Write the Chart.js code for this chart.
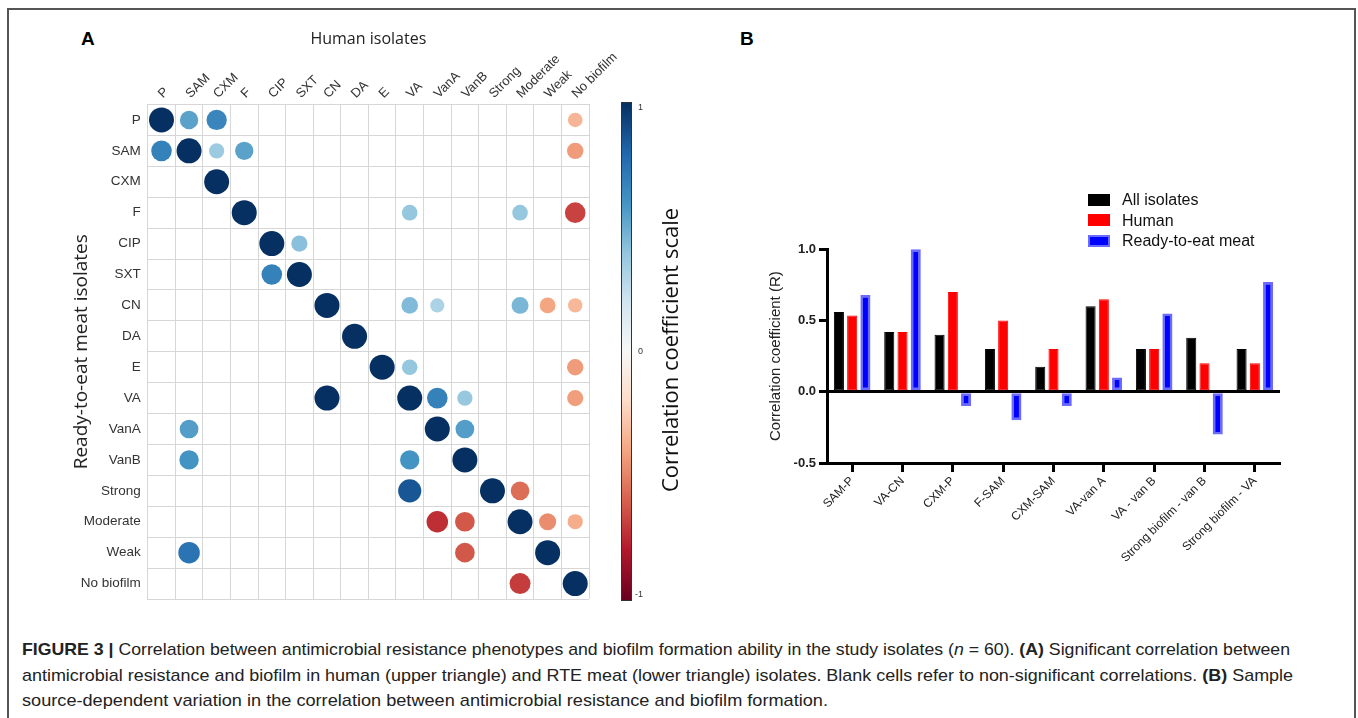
<!DOCTYPE html>
<html>
<head>
<meta charset="utf-8">
<script src="https://cdn.jsdelivr.net/npm/chart.js@4.4.0/dist/chart.umd.min.js"></script>
<style>
body{margin:0;background:#fff;font-family:"Liberation Sans",Arial,sans-serif;}
#page{position:relative;width:1358px;height:718px;overflow:hidden;background:#fff;}
#frame{position:absolute;left:7px;top:8px;width:1349px;height:800px;border:2px solid #555;box-sizing:border-box;}
.panel{position:absolute;font-weight:bold;font-size:19px;color:#000;}
canvas{position:absolute;}
#legend{position:absolute;left:1088px;top:190px;font-size:16px;color:#111;}
#legend div{height:20.5px;line-height:20.5px;white-space:nowrap;}
#legend span.box{display:inline-block;width:22px;height:12px;vertical-align:middle;margin-right:12px;box-sizing:border-box;position:relative;top:-1px;}
.cap{position:absolute;left:22px;white-space:nowrap;font-family:"Liberation Sans Narrow","Liberation Sans",Arial,sans-serif;font-size:17px;color:#222;transform-origin:0 50%;}
</style>
</head>
<body>
<div id="page">
  <div id="frame"></div>
  <div class="panel" style="left:81px;top:28px;">A</div>
  <div class="panel" style="left:740px;top:28px;">B</div>
  <canvas id="corrChart" width="700" height="620" style="left:0;top:0;"></canvas>
  <canvas id="barChart" width="658" height="470" style="left:700px;top:150px;"></canvas>
  <div id="legend"></div>
  <div class="cap" id="cap1" data-w="1268" style="top:640px;"><b>FIGURE 3 |</b> Correlation between antimicrobial resistance phenotypes and biofilm formation ability in the study isolates (<i>n</i> = 60). <b>(A)</b> Significant correlation between</div>
  <div class="cap" id="cap2" data-w="1271" style="top:666px;">antimicrobial resistance and biofilm in human (upper triangle) and RTE meat (lower triangle) isolates. Blank cells refer to non-significant correlations. <b>(B)</b> Sample</div>
  <div class="cap" id="cap3" data-w="806" style="top:691px;">source-dependent variation in the correlation between antimicrobial resistance and biofilm formation.</div>
</div>
<script>
// panel A: correlation matrix
var corrLabels = ['P','SAM','CXM','F','CIP','SXT','CN','DA','E','VA','VanA','VanB','Strong','Moderate','Weak','No biofilm'];
var _ = null;
var corrValues = [
  [1,    0.54, 0.66, _, _,    _,    _, _, _, _,    _,     _,     _,     _,     _,     -0.34],
  [0.68, 1,    0.37, 0.54, _, _,    _, _, _, _,    _,     _,     _,     _,     _,     -0.43],
  [_,    _,    1,    _, _,    _,    _, _, _, _,    _,     _,     _,     _,     _,     _],
  [_,    _,    _,    1, _,    _,    _, _, _, 0.39, _,     _,     _,     0.39,  _,     -0.68],
  [_,    _,    _,    _, 1,    0.42, _, _, _, _,    _,     _,     _,     _,     _,     _],
  [_,    _,    _,    _, 0.68, 1,    _, _, _, _,    _,     _,     _,     _,     _,     _],
  [_,    _,    _,    _, _,    _,    1, _, _, 0.44, 0.32,  _,     _,     0.46,  -0.4,  -0.33],
  [_,    _,    _,    _, _,    _,    _, 1, _, _,    _,     _,     _,     _,     _,     _],
  [_,    _,    _,    _, _,    _,    _, _, 1, 0.39, _,     _,     _,     _,     _,     -0.43],
  [_,    _,    _,    _, _,    _,    1, _, _, 1,    0.68,  0.38,  _,     _,     _,     -0.42],
  [_,    0.56, _,    _, _,    _,    _, _, _, _,    1,     0.56,  _,     _,     _,     _],
  [_,    0.6,  _,    _, _,    _,    _, _, _, 0.6,  _,     1,     _,     _,     _,     _],
  [_,    _,    _,    _, _,    _,    _, _, _, 0.86, _,     _,     1,     -0.56, _,     _],
  [_,    _,    _,    _, _,    _,    _, _, _, _,    -0.74, -0.62, _,     1,     -0.47, -0.37],
  [_,    0.74, _,    _, _,    _,    _, _, _, _,    _,     -0.62, _,     _,     1,     _],
  [_,    _,    _,    _, _,    _,    _, _, _, _,    _,     _,     _,     -0.7,  _,     1]
];
var scaleTicks = [1, 0, -1];

// panel B: bar chart
var pairLabels = ['SAM-P','VA-CN','CXM-P','F-SAM','CXM-SAM','VA-van A','VA - van B','Strong biofilm - van B','Strong biofilm - VA'];
var allIsolates = [0.56, 0.42, 0.40, 0.30, 0.175, 0.60, 0.30, 0.38, 0.30];
var human = [0.535, 0.42, 0.70, 0.50, 0.30, 0.65, 0.30, 0.20, 0.20];
var rteMeat = [0.68, 1.0, -0.10, -0.20, -0.10, 0.10, 0.55, -0.30, 0.77];

var rdbu = ['#67001f','#b2182b','#d6604d','#f4a582','#fddbc7','#f7f7f7','#d1e5f0','#92c5de','#4393c3','#2166ac','#053061'];

function hexRgb(h){
    return [parseInt(h.substr(1,2),16), parseInt(h.substr(3,2),16), parseInt(h.substr(5,2),16)];
}
function corrColour(v){
    var t = (v + 1) / 2 * 10;
    var i = Math.min(9, Math.floor(t));
    var f = t - i;
    var a = hexRgb(rdbu[i]), b = hexRgb(rdbu[i+1]);
    var c = [0,1,2].map(function(k){ return Math.round(a[k] + (b[k]-a[k])*f); });
    return 'rgb(' + c.join(',') + ')';
}

var bubblePoints = [];
corrValues.forEach(function(row, i){
    row.forEach(function(v, j){
        if(v !== null){
            bubblePoints.push({x: corrLabels[j], y: corrLabels[i], v: v});
        }
    });
});

var barTop = 103, barBottom = 600, barLeft = 622, barWidth = 9;

var colourBar = {
    id: 'colourBar',
    afterDraw: function(chart){
        var ctx = chart.ctx;
        ctx.save();
        var g = ctx.createLinearGradient(0, barTop, 0, barBottom);
        rdbu.slice().reverse().forEach(function(c, i){ g.addColorStop(i/10, c); });
        ctx.fillStyle = g;
        ctx.fillRect(barLeft, barTop, barWidth, barBottom - barTop);
        ctx.strokeStyle = '#333';
        ctx.lineWidth = 1;
        ctx.strokeRect(barLeft - 0.5, barTop - 0.5, barWidth + 1, barBottom - barTop + 1);
        ctx.fillStyle = '#333';
        ctx.font = '9px "Liberation Sans", Arial';
        ctx.textBaseline = 'middle';
        scaleTicks.forEach(function(v){
            var y = barTop + (1 - v) / 2 * (barBottom - barTop);
            ctx.fillText(String(v), barLeft + barWidth + 7 - (v < 0 ? 3 : 0), y + (v == 1 ? 5 : (v == -1 ? -5 : 0)));
        });
        ctx.translate(672, 350);
        ctx.rotate(-Math.PI / 2);
        ctx.textAlign = 'center';
        ctx.font = '22px "Open Sans", sans-serif';
        ctx.fillStyle = '#111';
        ctx.fillText('Correlation coefficient scale', 0, 0);
        ctx.restore();
    }
};

var gridGrey = '#d6d6d6';

new Chart(document.getElementById('corrChart'), {
    type: 'bubble',
    data: {
        datasets: [{
            data: bubblePoints,
            radius: function(c){ return c.raw ? 12.5 * Math.sqrt(Math.abs(c.raw.v)) : 0; },
            backgroundColor: function(c){ return c.raw ? corrColour(c.raw.v) : 'rgba(0,0,0,0)'; },
            borderWidth: 0,
            hoverRadius: 0
        }]
    },
    options: {
        responsive: false,
        animation: false,
        events: [],
        layout: {padding: {left: 70, top: 30, right: 111, bottom: 21}},
        plugins: {legend: {display: false}, tooltip: {enabled: false}},
        scales: {
            x: {
                type: 'category',
                labels: corrLabels,
                position: 'top',
                offset: true,
                grid: {offset: true, color: gridGrey, drawTicks: false},
                border: {color: gridGrey},
                ticks: {minRotation: 45, maxRotation: 45, padding: 3, labelOffset: 10, color: '#333', font: {size: 13, family: '"Liberation Sans", Arial'}},
                title: {display: true, text: 'Human isolates', color: '#222', padding: 0, font: {size: 16, family: '"Open Sans", sans-serif'}},
                afterFit: function(s){ s.height = 74.5; }
            },
            y: {
                type: 'category',
                labels: corrLabels,
                offset: true,
                grid: {offset: true, color: gridGrey, drawTicks: false},
                border: {color: gridGrey},
                ticks: {padding: 7, color: '#333', font: {size: 13.5, family: '"Liberation Sans", Arial'}},
                title: {display: true, text: 'Ready-to-eat meat isolates', color: '#222', padding: 0, font: {size: 19, family: '"Open Sans", sans-serif'}},
                afterFit: function(s){ s.width = 77.7; }
            }
        }
    },
    plugins: [colourBar]
});

var barChart = new Chart(document.getElementById('barChart'), {
    type: 'bar',
    data: {
        labels: pairLabels,
        datasets: [
            {label: 'All isolates', data: allIsolates, backgroundColor: '#000', borderColor: '#000', borderWidth: 1},
            {label: 'Human', data: human, backgroundColor: '#ff0000', borderColor: '#ff0000', borderWidth: 1},
            {label: 'Ready-to-eat meat', data: rteMeat, backgroundColor: '#0000ff', borderColor: '#6b6bff', borderWidth: 2.5}
        ]
    },
    options: {
        responsive: false,
        animation: false,
        events: [],
        datasets: {bar: {categoryPercentage: 0.79, barPercentage: 0.76, borderSkipped: false, clip: false}},
        layout: {padding: {left: 67, right: 78, top: 99.3, bottom: 10}},
        plugins: {legend: {display: false}, tooltip: {enabled: false}},
        scales: {
            x: {
                grid: {offset: false, drawOnChartArea: false, tickLength: 9, tickWidth: 3, tickColor: '#000'},
                border: {color: '#000', width: 3},
                ticks: {minRotation: 45, maxRotation: 45, padding: 2, color: '#222', font: {size: 12, family: '"Liberation Sans", Arial'}},
                afterFit: function(s){ s.height = 147; }
            },
            y: {
                min: -0.5,
                max: 1,
                ticks: {stepSize: 0.5, padding: 3, color: '#222', font: {size: 13, weight: 'bold', family: '"Liberation Sans", Arial'},
                    callback: function(v){ return v.toFixed(1); }},
                grid: {
                    color: function(c){ return c.tick && c.tick.value === 0 ? '#000' : 'rgba(0,0,0,0)'; },
                    lineWidth: 3, tickLength: 8, tickColor: '#000', tickWidth: 3
                },
                border: {color: '#000', width: 3},
                title: {display: true, text: 'Correlation coefficient (R)', color: '#222', padding: 0, font: {size: 15, family: '"Liberation Sans", Arial'}},
                afterFit: function(s){ s.width = 60; }
            }
        }
    }
});

// legend built from the datasets
var legendBox = document.getElementById('legend');
barChart.data.datasets.forEach(function(ds){
    var row = document.createElement('div');
    var box = document.createElement('span');
    box.className = 'box';
    box.style.background = ds.backgroundColor;
    box.style.border = (ds.borderWidth > 1 ? '2.5px' : '1px') + ' solid ' + ds.borderColor;
    row.appendChild(box);
    row.appendChild(document.createTextNode(ds.label));
    legendBox.appendChild(row);
});

// fit caption lines to the printed width
['cap1','cap2','cap3'].forEach(function(id){
    var el = document.getElementById(id);
    var w = el.getBoundingClientRect().width;
    var target = +el.getAttribute('data-w');
    el.style.transform = 'scaleX(' + (target / w).toFixed(4) + ')';
});
</script>
</body>
</html>
